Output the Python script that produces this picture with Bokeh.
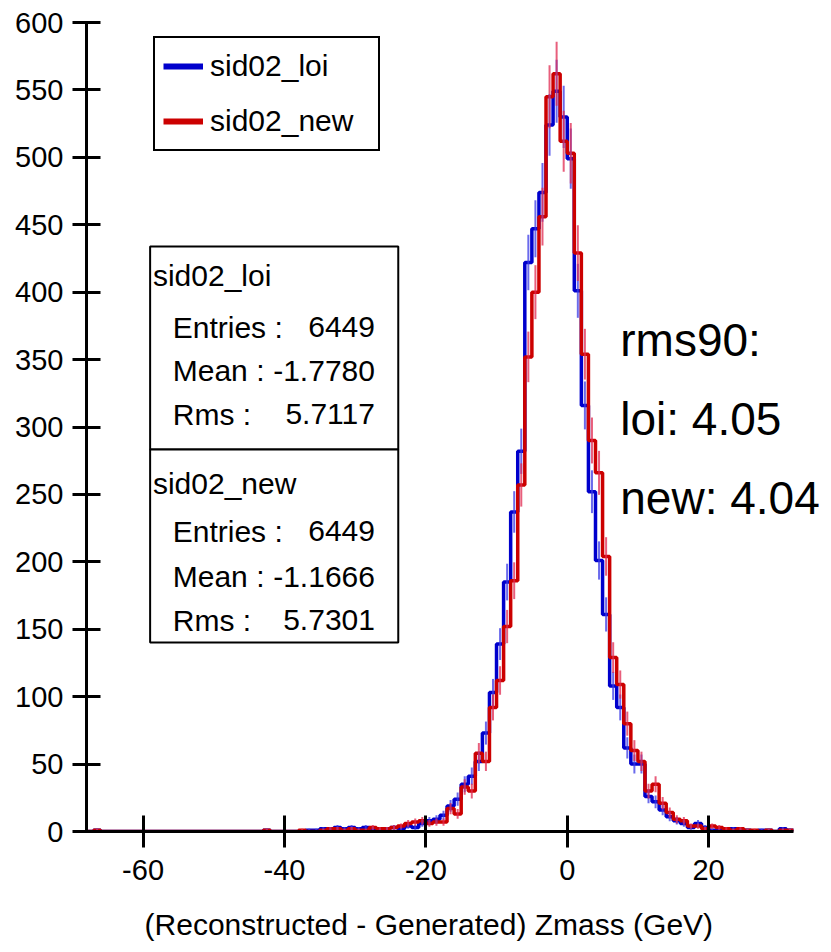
import numpy as np
from bokeh.plotting import figure
from bokeh.models import Range1d, FixedTicker, Legend, LegendItem, Label, BoxAnnotation
from bokeh.embed import file_html
from bokeh.resources import INLINE

# ---- data (1 GeV bins from -68 to 32) ----
bin_low = -68
bin_high = 32
loi_counts = [
    0, 1, 0, 0, 0, 0, 0, 0, 0, 0,            # -68 .. -59
    0, 0, 0, 0, 0, 0, 0, 0, 0, 0,            # -58 .. -49
    0, 0, 0, 0, 0, 1, 0, 0, 0, 0,            # -48 .. -39
    0, 1, 1, 2, 2, 3, 2, 3, 2, 3,            # -38 .. -29
    2, 1, 2, 3, 2, 4, 3, 6, 8, 9,            # -28 .. -19
    12, 19, 24, 35, 41, 52, 73, 103, 139, 185,   # -18 .. -9
    237, 282, 422, 447, 474, 524, 549, 530, 499, 401,  # -8 .. 1
    316, 252, 201, 161, 108, 92, 62, 50, 50, 26,  # 2 .. 11
    22, 16, 11, 8, 6, 3, 6, 3, 1, 1,          # 12 .. 21
    0, 2, 1, 1, 0, 1, 1, 0, 2, 1,            # 22 .. 31
]
new_counts = [
    0, 1, 0, 0, 0, 0, 0, 0, 0, 0,
    0, 0, 0, 0, 0, 0, 0, 0, 0, 0,
    0, 0, 0, 0, 0, 1, 0, 0, 0, 0,
    1, 0, 0, 1, 2, 2, 1, 2, 1, 1,
    3, 2, 2, 3, 4, 6, 7, 8, 6, 7,
    7, 17, 13, 33, 30, 58, 52, 92, 112, 152,
    186, 257, 352, 400, 456, 545, 562, 512, 503, 429,
    354, 290, 266, 204, 129, 109, 80, 60, 52, 30,
    35, 21, 14, 9, 8, 4, 4, 2, 4, 3,
    2, 1, 2, 1, 1, 0, 1, 0, 1, 1,
]
x_ticks = [-60, -40, -20, 0, 20]
y_ticks = list(range(0, 601, 50))
series_names = ["sid02_loi", "sid02_new"]
stats_loi = ["6449", "-1.7780", "5.7117"]
stats_new = ["6449", "-1.1666", "5.7301"]
rms90_text = ["rms90:", "loi: 4.05", "new: 4.04"]
x_title = "(Reconstructed - Generated) Zmass (GeV)"

FONT = "Liberation Sans"
BLUE = "#0000cc"
RED = "#cc0000"
BLUE_ERR = "#3a3ae6"
RED_ERR = "#e02a50"

# frame extends a little past the last bin so the side text is not clipped;
# the x axis itself is bounded to the histogram range.
view_end = 37.1
p = figure(width=829, height=950, x_range=Range1d(bin_low, view_end), y_range=Range1d(0, 600),
           output_backend="svg", toolbar_location=None, title=None,
           min_border_left=86, min_border_right=0, min_border_top=22, min_border_bottom=119)
p.xgrid.visible = False
p.ygrid.visible = False
p.outline_line_color = None
p.background_fill_color = "white"

edges = np.arange(bin_low, bin_high + 1)
centers = edges[:-1] + 0.5

for counts, col in [(loi_counts, BLUE), (new_counts, RED)]:
    c = np.array(counts, dtype=float)
    p.step(x=edges, y=np.append(c, c[-1]), mode="after", line_color=col, line_width=3.5)

for counts, ecol in [(loi_counts, BLUE_ERR), (new_counts, RED_ERR)]:
    c = np.array(counts, dtype=float)
    m = c > 0
    err = np.sqrt(c[m])
    p.segment(x0=centers[m], x1=centers[m], y0=np.clip(c[m] - err, 0, None), y1=c[m] + err,
              line_color=ecol, line_width=2, line_alpha=0.75)

# axes
for ax, tin in [(p.xaxis, 16), (p.yaxis, 14)]:
    ax.axis_line_width = 3
    ax.axis_line_color = "black"
    ax.major_tick_line_width = 3
    ax.major_tick_line_color = "black"
    ax.major_tick_in = tin
    ax.major_tick_out = tin
    ax.minor_tick_line_color = None
    ax.major_label_text_font = FONT
    ax.major_label_text_font_size = "29px"
    ax.major_label_text_color = "black"
p.xaxis.bounds = (bin_low, bin_high)
p.xaxis.ticker = FixedTicker(ticks=x_ticks)
p.yaxis.ticker = FixedTicker(ticks=y_ticks)
p.xaxis.major_label_overrides = {t: str(t) for t in x_ticks}
p.yaxis.major_label_overrides = {t: str(t) for t in y_ticks}
p.xaxis.major_label_standoff = 12
p.yaxis.major_label_standoff = 9
# trailing no-break spaces re-centre the title under the histogram range
p.xaxis.axis_label = x_title + "\u00a0" * 7
p.xaxis.axis_label_text_font = FONT
p.xaxis.axis_label_text_font_size = "30px"
p.xaxis.axis_label_text_font_style = "normal"
p.xaxis.axis_label_text_color = "black"
p.xaxis.axis_label_standoff = 25

# legend (swatch renderers carry no visible data)
leg_r = [p.line(x=[np.nan], y=[np.nan], line_color=BLUE, line_width=6),
         p.line(x=[np.nan], y=[np.nan], line_color=RED, line_width=6)]
legend = Legend(items=[LegendItem(label=series_names[0], renderers=[leg_r[0]]),
                       LegendItem(label=series_names[1], renderers=[leg_r[1]])],
                location=(67, 680), border_line_color="black", border_line_width=2,
                border_line_alpha=1.0,
                background_fill_color="white", background_fill_alpha=1.0,
                label_text_font=FONT, label_text_font_size="30px", label_text_color="black",
                glyph_width=40, glyph_height=40, label_height=40, label_width=160,
                spacing=15, padding=8, margin=0, label_standoff=7)
p.add_layout(legend)

# stats boxes
box_l, box_r = -59.0, -23.9
for top, bottom in [(433.9, 283.3), (283.3, 140.2)]:
    p.add_layout(BoxAnnotation(left=box_l, right=box_r, top=top, bottom=bottom, fill_color="white",
                               fill_alpha=1.0, line_color="black", line_alpha=1.0, line_width=2))

def lab(x, y, t, align="left", size="30px"):
    p.add_layout(Label(x=x, y=y, text=t, text_font=FONT, text_font_size=size, text_color="black",
                       text_baseline="middle", text_align=align))

keys = ["Entries :", "Mean :", "Rms :"]
for name, vals, y0, ys in [(series_names[0], stats_loi, 412.4, [373.8, 341.9, 309.3]),
                           (series_names[1], stats_new, 258.1, [222.5, 189.1, 156.5])]:
    lab(-58.6, y0, name)
    for k, v, y in zip(keys, vals, ys):
        lab(-55.8, y, k)
        lab(-27.2, y, v, align="right")

for t, y in zip(rms90_text, [364.2, 306.3, 247.7]):
    lab(7.5, y, t, size="46px")

open("out.html", "w").write(file_html(p, INLINE))
